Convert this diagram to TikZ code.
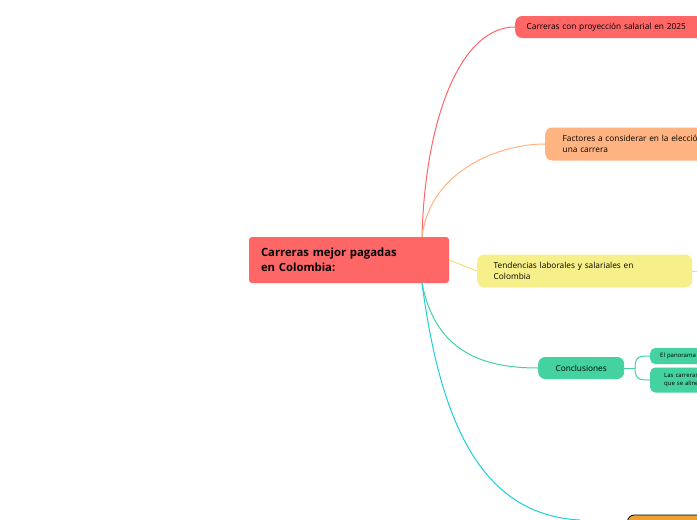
\documentclass[tikz,border=0pt]{standalone}
\usepackage{fontspec}
\setmainfont{Open Sans}
\definecolor{cred}{HTML}{FF6666}
\definecolor{corange}{HTML}{FFB380}
\definecolor{cyellow}{HTML}{F7F08A}
\definecolor{cgreen}{HTML}{44D3A0}
\definecolor{ccyan}{HTML}{1DCFD8}
\definecolor{cgold}{HTML}{F0A030}
\tikzset{
  topic/.style={rounded corners=7pt, inner sep=0pt, align=left, font=\fontsize{8.3}{10.5}\selectfont, anchor=west},
  sub/.style={rounded corners=5pt, inner sep=0pt, align=left, font=\fontsize{6}{8}\selectfont, anchor=west},
}
\begin{document}
\begin{tikzpicture}[x=1pt,y=-1pt]
  \useasboundingbox (0,0) rectangle (697,520);
  \clip (0,0) rectangle (697,520);

  % central topic
  \node[fill=cred, rounded corners=3pt, minimum width=200pt, minimum height=46pt, text width=176pt,
        align=left, font=\bfseries\fontsize{11.3}{14.5}\selectfont] (root) at (349,260)
        {Carreras mejor pagadas\\en Colombia:};
  \coordinate (rtop) at (422,237);
  \coordinate (rbot) at (422,283);

  % main topics
  \node[topic, fill=cred, minimum width=200pt, minimum height=22pt, text width=195pt] (proy) at (515,27)
        {\hspace*{9pt}Carreras con proyección salarial en 2025};
  \node[topic, fill=corange, minimum width=200pt, minimum height=33pt, text width=195pt] (fact) at (545,144)
        {\hspace*{15pt}Factores a considerar en la elección de\\\hspace*{15pt}una carrera};
  \node[topic, fill=cyellow, minimum width=215pt, minimum height=33pt, text width=210pt] (tend) at (477,271)
        {\hspace*{14pt}Tendencias laborales y salariales en\\\hspace*{14pt}Colombia};
  \node[topic, fill=cgreen, minimum width=86pt, minimum height=22pt, align=center] (conc) at (538,368)
        {Conclusiones};
  \node[topic, fill=cgold, draw=black, line width=0.8pt, minimum width=120pt, minimum height=20pt] (last) at (627,525) {};

  % sub topics
  \node[sub, fill=cgreen, minimum width=80pt, minimum height=16pt, text width=78pt] (pano) at (650,356)
        {\hspace*{9pt}El panorama laboral};
  \node[sub, fill=cgreen, minimum width=80pt, minimum height=25pt, text width=78pt] (alin) at (650,380)
        {\hspace*{13pt}Las carreras\\\hspace*{13pt}que se alinean};

  % connectors
  \draw[cred, line width=1pt] (rtop) .. controls (425,120) and (460,27) .. (proy.west);
  \draw[corange, line width=1pt] (rtop) .. controls (430,170) and (500,144) .. (fact.west);
  \draw[cyellow!85!orange, line width=1pt] (root.east) -- (tend.west);
  \draw[cyellow!85!orange, line width=1pt] (tend.east) -- +(10,0);
  \draw[cgreen, line width=1pt] (rbot) .. controls (435,350) and (480,368) .. (conc.west);
  \draw[ccyan, line width=1pt] (rbot) .. controls (440,420) and (480,515) .. (580,520);
  \draw[cgreen, line width=1pt] (conc.east) -- (635,368);
  \draw[cgreen, line width=1pt] (635,368) .. controls (635,356) and (640,356) .. (pano.west);
  \draw[cgreen, line width=1pt] (635,368) .. controls (635,380) and (640,380) .. (alin.west);
\end{tikzpicture}
\end{document}
